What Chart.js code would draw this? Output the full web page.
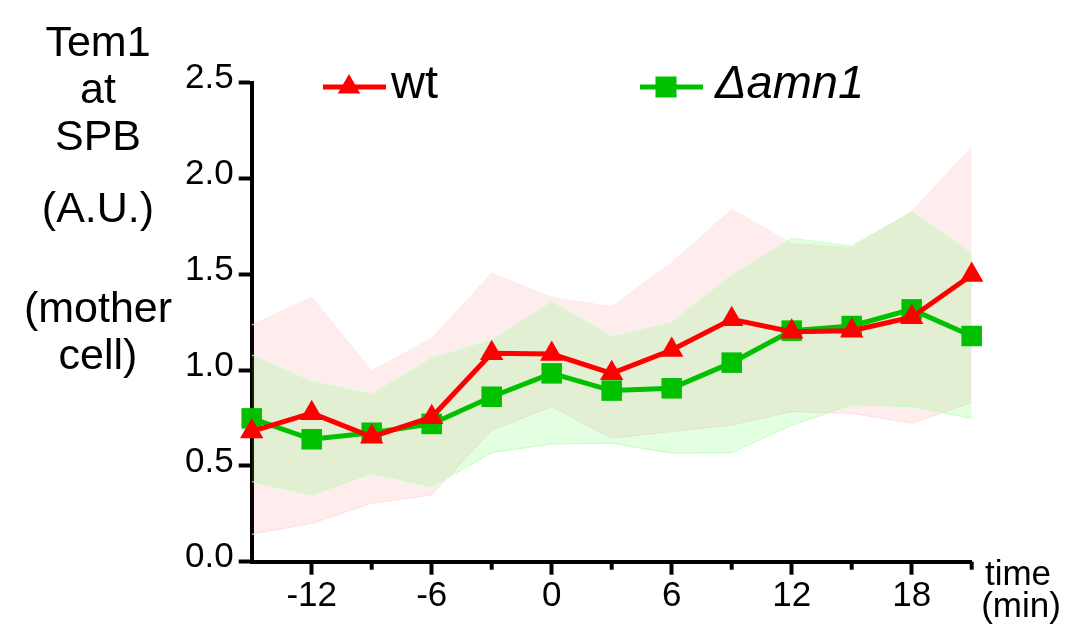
<!DOCTYPE html>
<html>
<head>
<meta charset="utf-8">
<script src="https://cdn.jsdelivr.net/npm/chart.js@4.4.1/dist/chart.umd.min.js"></script>
<style>
  html, body { margin: 0; padding: 0; background: #fff; }
  #wrap { position: relative; width: 1076px; height: 630px; }
</style>
</head>
<body>
<div id="wrap"><canvas id="grafico" width="1076" height="630"></canvas></div>
<script>
// Datos (tiempo en min)
const tiempos = [-15, -12, -9, -6, -3, 0, 3, 6, 9, 12, 15, 18, 21];
const wtMedia = [0.68, 0.775, 0.652, 0.754, 1.088, 1.084, 0.983, 1.105, 1.265, 1.200, 1.206, 1.276, 1.496];
const wtSuperior = [1.235, 1.38, 0.997, 1.166, 1.505, 1.38, 1.331, 1.56, 1.839, 1.66, 1.64, 1.827, 2.166];
const wtInferior = [0.143, 0.200, 0.305, 0.348, 0.687, 0.809, 0.644, 0.679, 0.713, 0.783, 0.774, 0.722, 0.830];
const amnMedia = [0.748, 0.639, 0.673, 0.719, 0.861, 0.983, 0.893, 0.905, 1.039, 1.206, 1.230, 1.317, 1.178];
const amnSuperior = [1.079, 0.940, 0.875, 1.062, 1.157, 1.357, 1.174, 1.248, 1.496, 1.688, 1.648, 1.827, 1.610];
const amnInferior = [0.418, 0.348, 0.461, 0.391, 0.569, 0.614, 0.618, 0.566, 0.569, 0.713, 0.818, 0.809, 0.748];
const xMenores = [-9, -3, 3, 9, 15, 21];
const tituloY = ['Tem1', 'at', 'SPB', '(A.U.)', '(mother', 'cell)'];
const tituloX = ['time', '(min)'];
const leyenda = ['wt', 'Δamn1'];

const FUENTE = "'Liberation Sans', Arial, sans-serif";
const ROJO = '#ff0000';
const VERDE = '#00c000';

function puntos(arr) {
  return arr.map((v, i) => ({ x: tiempos[i], y: v }));
}

// Ticks cortos del eje x y textos fuera del area
const extrasPlugin = {
  id: 'extras',
  afterDraw(chart) {
    const ctx = chart.ctx;
    const xs = chart.scales.x;
    const area = chart.chartArea;
    ctx.save();
    ctx.strokeStyle = '#000';
    ctx.lineWidth = 4;
    xMenores.forEach(v => {
      const px = xs.getPixelForValue(v);
      ctx.beginPath();
      ctx.moveTo(px, area.bottom);
      ctx.lineTo(px, area.bottom + 8);
      ctx.stroke();
    });

    // titulo eje y
    ctx.fillStyle = '#000';
    ctx.textAlign = 'center';
    ctx.textBaseline = 'middle';
    ctx.font = '43px ' + FUENTE;
    const posY = [44, 91, 138, 210, 310, 357];
    tituloY.forEach((t, i) => ctx.fillText(t, 98, posY[i]));

    // titulo eje x
    ctx.font = '35px ' + FUENTE;
    ctx.fillText(tituloX[0], 1018, 575);
    ctx.fillText(tituloX[1], 1021, 607);

    // leyenda
    const items = [
      { x: 323, color: ROJO, estilo: 'triangle', texto: leyenda[0], italic: false, dx: 68 },
      { x: 640, color: VERDE, estilo: 'rect', texto: leyenda[1], italic: true, dx: 75 }
    ];
    items.forEach(it => {
      const yy = 87;
      ctx.strokeStyle = it.color;
      ctx.lineWidth = 5;
      ctx.beginPath();
      ctx.moveTo(it.x, yy);
      ctx.lineTo(it.x + 63, yy);
      ctx.stroke();
      ctx.fillStyle = it.color;
      const cx = it.x + 26;
      ctx.beginPath();
      if (it.estilo === 'triangle') {
        const r = 13;
        for (let k = 0; k < 3; k++) {
          const a = k * 2 * Math.PI / 3;
          const px = cx + Math.sin(a) * r, py = yy - Math.cos(a) * r;
          if (k === 0) ctx.moveTo(px, py); else ctx.lineTo(px, py);
        }
        ctx.closePath();
      } else {
        ctx.rect(cx - 10.5, yy - 10.5, 21, 21);
      }
      ctx.fill();
      ctx.fillStyle = '#000';
      ctx.textAlign = 'left';
      ctx.font = (it.italic ? 'italic ' : '') + '47px ' + FUENTE;
      ctx.fillText(it.texto, it.x + it.dx, yy - 2);
    });
    ctx.restore();
  }
};

new Chart(document.getElementById('grafico'), {
  type: 'line',
  data: {
    datasets: [
      {
        label: 'wt',
        data: puntos(wtMedia),
        borderColor: ROJO,
        backgroundColor: ROJO,
        borderWidth: 5,
        pointStyle: 'triangle',
        pointRadius: 13.5,
        pointBorderWidth: 0,
        pointBackgroundColor: ROJO,
        fill: false,
        clip: false
      },
      {
        label: 'Δamn1',
        data: puntos(amnMedia),
        borderColor: VERDE,
        backgroundColor: VERDE,
        borderWidth: 5,
        pointStyle: 'rect',
        pointRadius: 14.5,
        pointBorderWidth: 0,
        pointBackgroundColor: VERDE,
        fill: false,
        clip: false
      },
      {
        label: 'amnSup',
        data: puntos(amnSuperior),
        borderColor: 'rgba(205,255,205,1)',
        borderWidth: 1,
        pointRadius: 0,
        backgroundColor: 'rgba(40,255,30,0.13)',
        fill: '+1'
      },
      {
        label: 'amnInf',
        data: puntos(amnInferior),
        borderColor: 'rgba(205,255,205,1)',
        borderWidth: 1,
        pointRadius: 0,
        fill: false
      },
      {
        label: 'wtSup',
        data: puntos(wtSuperior),
        borderColor: 'rgba(255,232,232,1)',
        borderWidth: 1,
        pointRadius: 0,
        backgroundColor: 'rgba(255,0,0,0.075)',
        fill: '+1'
      },
      {
        label: 'wtInf',
        data: puntos(wtInferior),
        borderColor: 'rgba(255,232,232,1)',
        borderWidth: 1,
        pointRadius: 0,
        fill: false
      }
    ]
  },
  options: {
    responsive: false,
    animation: false,
    layout: { padding: { top: 82.7, right: 104.3, bottom: 0, left: 0 } },
    plugins: {
      legend: { display: false },
      tooltip: { enabled: false }
    },
    scales: {
      x: {
        type: 'linear',
        min: -15,
        max: 21,
        afterFit(scale) { scale.height = 68.3; },
        ticks: {
          stepSize: 3,
          autoSkip: false,
          maxRotation: 0,
          color: '#000',
          padding: 1,
          font: { family: FUENTE, size: 35 },
          callback: v => (v % 6 === 0 ? String(v) : '')
        },
        grid: {
          drawOnChartArea: false,
          tickLength: 13,
          tickWidth: 4,
          tickColor: c => (c.tick && c.tick.value % 6 === 0 ? '#000' : 'rgba(0,0,0,0)')
        },
        border: { color: '#000', width: 4 }
      },
      y: {
        min: 0,
        max: 2.5,
        afterFit(scale) { scale.width = 251.7; },
        ticks: {
          stepSize: 0.5,
          color: '#000',
          padding: 5,
          labelOffset: -4,
          font: { family: FUENTE, size: 35 },
          callback: v => v.toFixed(1)
        },
        grid: {
          drawOnChartArea: false,
          tickLength: 13,
          tickWidth: 4,
          tickColor: '#000'
        },
        border: { color: '#000', width: 4 }
      }
    }
  },
  plugins: [extrasPlugin]
});
</script>
</body>
</html>
